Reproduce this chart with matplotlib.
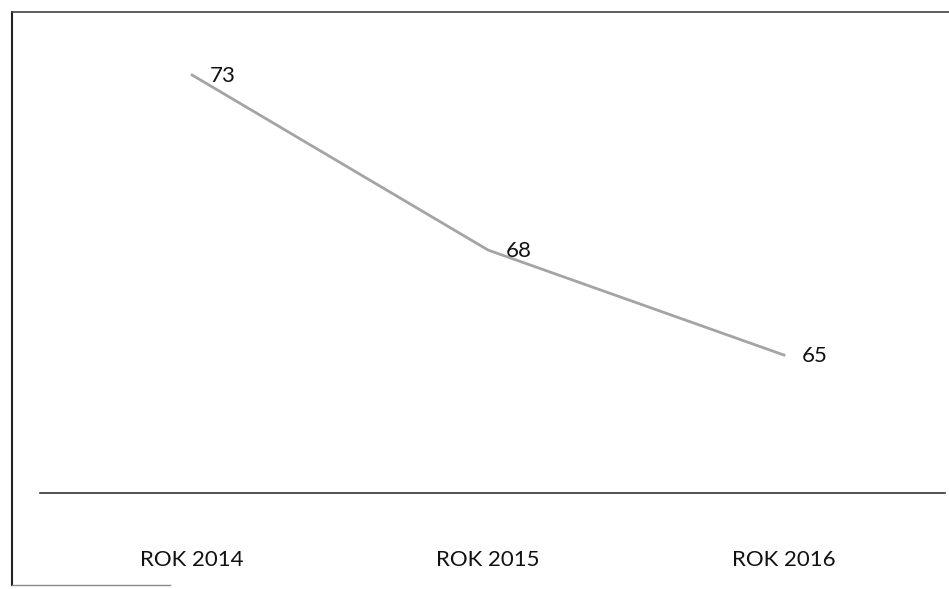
import matplotlib.pyplot as plt
from matplotlib.lines import Line2D

years = ['ROK 2014', 'ROK 2015', 'ROK 2016']
values = [73, 68, 65]

plt.rcParams['font.family'] = ['Lato', 'DejaVu Sans']

fig = plt.figure(figsize=(9.49, 5.89), dpi=100)
ax = fig.add_axes([40 / 949, 96 / 589, 905 / 949, 481 / 589])

x = list(range(len(years)))
ax.plot(x, values, color='#a4a4a4', linewidth=2)

for xi, v in zip(x, values):
    ax.annotate(str(v), xy=(xi, v), xytext=(13, -1), textcoords='offset points',
                ha='left', va='center', fontsize=16, color='#111111')

ax.set_xlim(-0.514, 2.544)
ax.set_ylim(61.06, 74.8)
ax.set_xticks(x)
ax.set_xticklabels(years, fontsize=16, color='#111111')
ax.tick_params(axis='x', length=0, pad=41)
ax.set_yticks([])
for side in ['top', 'right', 'left']:
    ax.spines[side].set_visible(False)
ax.spines['bottom'].set_color('#333333')
ax.spines['bottom'].set_linewidth(1.2)

# outer frame of the scanned chart
fig.add_artist(Line2D([12 / 949, 12 / 949], [4 / 589, 577 / 589], color='#222222', lw=1.5))
fig.add_artist(Line2D([12 / 949, 1.0], [577 / 589, 577 / 589], color='#444444', lw=1.2))
fig.add_artist(Line2D([12 / 949, 170 / 949], [4 / 589, 4 / 589], color='#888888', lw=1))

fig.savefig('out.png', dpi=100)
